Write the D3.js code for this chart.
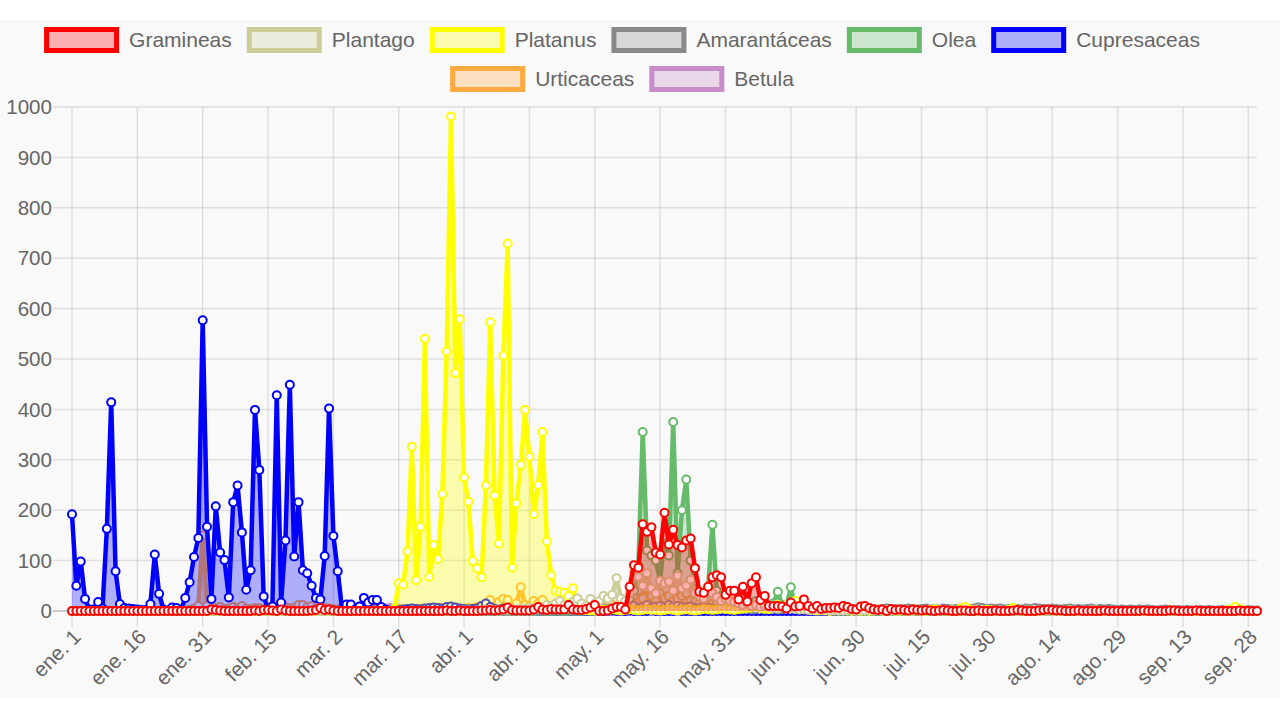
<!DOCTYPE html>
<html>
<head>
<meta charset="utf-8">
<style>
  body { margin: 0; background: #fff; }
  svg { display: block; font-family: "Liberation Sans", Arial, sans-serif; }
  .lbl { fill: #666; font-size: 20.6px; }
</style>
</head>
<body>
<svg id="chart" width="1280" height="720"></svg>
<script src="https://cdn.jsdelivr.net/npm/d3@7"></script>
<script>
// month names and lengths used for the daily category labels (ene. 1 .. sep. 30)
const months = ["ene.", "feb.", "mar.", "abr.", "may.", "jun.", "jul.", "ago.", "sep."];
const monthDays = [31, 28, 31, 30, 31, 30, 31, 31, 30];
const yTicks = [0, 100, 200, 300, 400, 500, 600, 700, 800, 900, 1000];

const seriesNames = ["Gramineas", "Plantago", "Platanus", "Amarantáceas", "Olea", "Cupresaceas", "Urticaceas", "Betula"];
const seriesColors = ["rgb(255,0,0)", "rgb(204,204,153)", "rgb(255,255,0)", "rgb(136,136,136)",
                      "rgb(102,187,106)", "rgb(0,0,255)", "rgb(255,170,64)", "rgb(200,140,200)"];

// one row per month
const gramineas = [
  0,0,0,0,0,0,0,0,0,0, 0,0,0,0,0,0,0,0,0,0, 0,0,0,0,0,0,0,0,0,0, 0,
  0,3,2,1,0,0,0,0,0,0, 0,1,0,2,2,1,0,3,1,0, 0,0,0,0,1,2,6,2,
  3,1,0,0,0,0,0,0,0,0, 0,0,0,0,0,0,0,0,0,0, 0,0,0,0,0,0,0,1,0,0, 1,
  0,0,0,0,1,1,2,1,2,3, 7,2,1,1,1,1,3,8,3,2, 4,3,3,3,12,3,2,2,4,7,
  12,0,0,1,5,8,8,3,48,91, 86,172,157,166,116,112,195,132,161,131, 126,140,144,85,38,36,48,67,71,67, 32,
  40,40,23,48,19,55,67,22,30,10, 10,10,9,5,17,9,10,23,10,5, 10,4,6,6,7,6,10,8,4,3,
  9,10,6,3,2,3,0,4,2,3, 2,1,3,2,1,2,1,0,1,2, 1,0,0,1,1,0,0,1,0,0, 0,
  1,0,0,0,1,2,1,0,0,0, 1,2,3,2,1,1,0,0,0,1, 0,0,0,0,0,1,0,0,0,0, 0,
  0,0,0,1,0,0,0,0,0,1, 1,0,0,0,0,1,0,0,0,0, 0,0,0,0,0,1,0,0,0,0
];
const plantago = [
  0,0,0,0,0,0,0,0,0,0, 0,0,0,0,0,0,0,0,0,0, 0,0,0,0,0,0,0,0,0,0, 0,
  0,0,0,0,0,0,0,0,0,0, 0,0,0,0,0,0,0,0,0,0, 0,0,0,0,0,0,0,0,
  0,0,0,0,0,0,0,0,0,0, 0,0,0,0,0,0,0,0,0,0, 0,0,0,0,0,0,0,0,0,0, 0,
  1,1,0,1,2,2,3,2,3,2, 3,4,3,5,4,6,5,7,8,12, 10,15,20,12,8,18,25,15,10,24,
  15,20,30,25,32,65,25,20,35,78, 68,50,75,45,35,60,55,58,40,70, 45,50,62,35,30,25,40,35,28,20, 25,
  20,18,15,12,15,10,12,8,10,8, 6,5,8,6,5,4,3,3,2,2, 3,2,2,1,2,1,1,2,1,1,
  1,1,2,1,1,0,1,1,0,1, 1,0,0,1,0,1,0,0,0,1, 0,0,1,0,0,0,1,0,0,0, 0,
  0,0,0,0,0,0,0,0,0,0, 0,0,0,0,0,0,0,0,0,0, 0,0,0,0,0,0,0,0,0,0, 0,
  0,0,0,0,0,0,0,0,0,0, 0,0,0,0,0,0,0,0,0,0, 0,0,0,0,0,0,0,0,0,0
];
const platanus = [
  0,0,0,0,0,0,0,0,0,0, 0,0,0,0,0,0,0,0,0,0, 0,0,0,0,0,0,0,0,0,0, 0,
  0,0,0,0,0,0,0,0,0,0, 0,0,0,0,0,0,0,0,0,0, 0,0,0,0,0,0,0,0,
  0,0,0,0,0,0,0,0,0,0, 0,0,0,0,1,4,55,52,118,326, 61,167,540,68,131,103,232,515,981,472, 579,
  265,217,99,85,67,249,573,229,134,507, 729,86,214,290,399,306,192,250,355,138, 71,40,38,36,30,45,12,3,2,1,
  1,2,2,1,3,2,1,2,3,2, 1,2,3,2,2,1,2,3,2,1, 2,3,2,1,2,4,3,2,3,5, 4,
  3,2,4,5,6,8,10,6,5,4, 8,12,8,10,15,20,10,5,3,2, 1,2,1,0,1,2,1,1,0,1,
  0,1,0,1,2,1,0,1,0,0, 1,0,0,1,0,0,2,3,2,1, 0,1,0,5,8,3,1,0,0,2, 1,
  1,0,0,2,6,2,0,0,1,0, 0,0,1,0,0,0,0,1,0,0, 0,0,0,1,0,0,0,0,0,0, 0,
  0,0,0,0,0,0,0,0,0,1, 0,0,0,0,0,0,0,0,0,0, 0,0,1,3,8,4,1,0,0,0
];
const amarantaceas = [
  0,0,0,0,0,0,0,0,0,0, 0,0,0,0,0,0,0,0,0,0, 0,0,0,0,0,0,0,0,0,0, 0,
  0,0,0,0,0,0,0,0,0,0, 0,0,0,0,0,0,0,0,0,0, 0,0,0,0,0,0,0,0,
  0,0,0,0,0,0,0,0,0,0, 0,0,0,0,0,0,0,0,0,0, 0,0,0,0,0,0,0,0,0,0, 0,
  0,0,0,0,0,1,0,0,1,0, 1,0,1,1,0,1,2,1,0,1, 2,1,2,3,2,1,2,3,2,3,
  3,4,5,3,4,6,5,4,8,10, 6,8,12,7,9,10,8,12,9,10, 8,7,9,6,5,7,6,5,4,6, 5,
  4,5,3,4,5,3,4,6,3,4, 5,3,4,5,6,4,3,5,4,3, 4,5,3,4,3,4,5,3,4,3,
  4,3,5,4,3,4,5,3,4,3, 4,5,4,3,4,5,3,4,3,5, 4,3,4,5,6,4,5,7,6,4, 5,
  4,5,3,4,5,4,3,5,4,6, 5,4,3,5,4,3,4,5,3,4, 3,4,5,3,4,3,4,3,2,3, 2,
  3,2,3,2,3,2,1,2,3,2, 1,2,1,2,1,1,2,1,2,1, 1,2,1,1,2,1,1,2,1,1
];
const olea = [
  0,0,0,0,0,0,0,0,0,0, 0,0,0,0,0,0,0,0,0,0, 0,0,0,0,0,0,0,0,0,0, 0,
  0,0,0,0,0,0,0,0,0,0, 0,0,0,0,0,0,0,0,0,0, 0,0,0,0,0,0,0,0,
  0,0,0,0,0,0,0,0,0,0, 0,0,0,0,0,0,0,0,0,0, 0,0,0,0,0,0,0,0,0,0, 0,
  0,0,0,0,0,0,0,0,0,0, 0,0,0,0,0,0,0,0,0,0, 0,0,0,0,0,0,0,0,1,1,
  0,1,2,3,5,8,10,15,25,40, 90,355,120,110,100,60,150,110,375,75, 200,261,100,60,35,30,45,171,40,30, 25,
  20,15,18,12,10,15,20,12,10,8, 15,38,12,10,47,8,5,4,3,2, 2,1,2,1,1,0,1,0,1,0,
  0,0,0,0,0,0,0,0,0,0, 0,0,0,0,0,0,0,0,0,0, 0,0,0,0,0,0,0,0,0,0, 0,
  0,0,0,0,0,0,0,0,0,0, 0,0,0,0,0,0,0,0,0,0, 0,0,0,0,0,0,0,0,0,0, 0,
  0,0,0,0,0,0,0,0,0,0, 0,0,0,0,0,0,0,0,0,0, 0,0,0,0,0,0,0,0,0,0
];
const cupresaceas = [
  192,50,98,24,3,3,18,5,163,414, 79,14,6,5,4,3,2,2,14,112, 34,3,1,7,6,2,26,57,107,145, 577,
  167,24,208,116,101,27,216,249,156,42, 81,399,280,29,4,9,428,17,140,449, 108,216,81,75,50,26,23,109,
  402,149,79,2,13,13,3,9,26,17, 22,22,8,3,2,1,2,3,4,5, 4,3,5,6,7,6,5,8,9,7, 5,
  4,3,4,5,10,15,8,4,3,5, 4,3,2,2,1,1,1,0,0,1, 0,0,0,1,0,0,0,0,0,0,
  0,1,0,0,1,0,0,0,1,0, 0,0,0,1,0,0,0,0,0,1, 0,0,0,0,0,0,0,0,0,0, 0,
  0,0,0,0,0,0,0,0,0,0, 0,0,0,0,0,0,0,0,0,0, 0,0,0,0,0,0,0,0,0,0,
  0,0,0,0,0,0,0,0,0,0, 0,0,0,0,0,0,0,0,0,0, 0,0,0,0,0,0,0,0,0,0, 0,
  0,0,0,0,0,0,0,0,0,0, 0,0,0,0,0,1,0,0,0,0, 0,0,0,0,0,0,0,0,0,0, 0,
  0,0,0,0,0,0,0,0,0,0, 0,0,0,0,0,0,0,0,0,0, 0,0,0,0,0,0,0,0,0,0
];
const urticaceas = [
  0,0,0,0,0,0,0,0,0,0, 0,0,0,0,0,0,0,0,0,0, 0,0,0,0,0,0,0,2,5,10, 150,
  10,5,6,8,4,5,8,6,10,5, 4,6,5,3,8,10,6,12,8,5, 6,12,12,8,10,5,4,6,
  5,4,3,2,3,2,3,2,1,2, 3,2,1,2,2,3,4,3,2,3, 4,5,3,4,5,4,6,5,4,6, 5,
  4,6,5,8,10,12,22,8,18,24, 22,10,15,47,12,10,20,15,22,10, 8,12,10,8,12,10,8,12,10,8,
  8,6,10,8,12,10,8,12,15,30, 40,25,45,30,20,35,25,30,20,25, 30,35,20,18,15,20,12,15,18,10, 12,
  10,8,12,8,6,10,8,6,5,4, 6,5,4,3,4,3,2,3,2,1, 2,1,1,2,1,0,1,1,0,1,
  1,0,1,0,0,1,0,0,1,0, 0,0,1,0,0,0,0,1,0,0, 0,0,0,0,1,0,0,0,0,0, 0,
  0,0,0,0,0,0,0,0,0,0, 0,0,0,0,0,0,0,0,0,0, 0,0,0,0,0,0,0,0,0,0, 0,
  0,0,0,0,0,0,0,0,0,0, 0,0,0,0,0,0,0,0,0,0, 0,0,0,0,0,0,0,0,0,0
];
const betula = [
  0,0,0,0,0,0,0,0,0,0, 0,0,0,0,0,0,0,0,0,0, 0,0,0,0,0,0,0,0,0,0, 0,
  0,0,0,1,0,0,1,0,0,1, 0,0,1,0,1,0,0,1,0,1, 1,0,1,2,1,1,2,1,
  1,2,3,2,4,3,5,4,3,6, 5,4,3,5,6,4,5,3,4,2, 3,4,2,3,2,1,2,1,2,1, 1,
  1,0,1,1,0,1,0,1,0,0, 1,0,0,1,0,0,0,1,0,0, 0,0,0,0,0,0,0,0,0,0,
  0,0,0,0,0,0,0,0,0,0, 0,0,0,0,0,0,0,0,0,0, 0,0,0,0,0,0,0,0,0,0, 0,
  0,0,0,0,0,0,0,0,0,0, 0,0,0,0,0,0,0,0,0,0, 0,0,0,0,0,0,0,0,0,0,
  0,0,0,0,0,0,0,0,0,0, 0,0,0,0,0,0,0,0,0,0, 0,0,0,0,0,0,0,0,0,0, 0,
  0,0,0,0,0,0,0,0,0,0, 0,0,0,0,0,0,0,0,0,0, 0,0,0,0,0,0,0,0,0,0, 0,
  0,0,0,0,0,0,0,0,0,0, 0,0,0,0,0,0,0,0,0,0, 0,0,0,0,0,0,0,0,0,0
];

const seriesValues = [gramineas, plantago, platanus, amarantaceas, olea, cupresaceas, urticaceas, betula];

// daily labels
let labels = []
months.forEach((m, mi) => {
    for (let d = 1; d <= monthDays[mi]; d++) labels.push(m + " " + d)
})
seriesValues.forEach((s, i) => {
    if (s.length !== labels.length) throw new Error(seriesNames[i] + " has " + s.length + " values, expected " + labels.length)
})

let svg = d3.select("#chart")
let plotLeft = 72, plotRight = 1257, plotTop = 107, plotBottom = 611

svg.append("rect").attr("x", 0).attr("y", 20).attr("width", 1280).attr("height", 678).attr("fill", "#f9f9f9")

let x = d3.scalePoint().domain(labels).range([plotLeft, plotRight])
let y = d3.scaleLinear().domain([0, 1000]).range([plotBottom, plotTop])

// grid
let grid = svg.append("g")
grid.selectAll(".hgrid").data(yTicks).enter().append("line")
    .attr("x1", 53).attr("x2", plotRight)
    .attr("y1", d => y(d)).attr("y2", d => y(d))
    .attr("stroke", d => d === 0 ? "rgba(0,0,0,0.25)" : "rgba(0,0,0,0.1)")
    .attr("stroke-width", 1.5)

let shown = labels.filter((d, i) => i % 15 === 0)
grid.selectAll(".vgrid").data(shown).enter().append("line")
    .attr("x1", d => x(d)).attr("x2", d => x(d))
    .attr("y1", plotTop).attr("y2", plotBottom + 16)
    .attr("stroke", "rgba(0,0,0,0.1)")
    .attr("stroke-width", 1.5)

svg.selectAll(".ylab").data(yTicks).enter().append("text")
    .attr("class", "lbl")
    .attr("x", 52).attr("y", d => y(d))
    .attr("dy", "0.35em")
    .attr("text-anchor", "end")
    .text(d => d)

svg.selectAll(".xlab").data(shown).enter().append("text")
    .attr("class", "lbl")
    .attr("text-anchor", "end")
    .attr("dy", "0.35em")
    .attr("transform", d => "translate(" + (x(d) + 5) + "," + (plotBottom + 22) + ") rotate(-45)")
    .text(d => d)

// series, last dataset drawn first so Gramineas ends up on top
let area = d3.area().x((d, i) => x(labels[i])).y0(y(0)).y1(d => y(d))
let line = d3.line().x((d, i) => x(labels[i])).y(d => y(d))

let order = d3.range(seriesNames.length).reverse()
order.forEach(k => {
    let col = d3.color(seriesColors[k])
    let g = svg.append("g")
    let fill = d3.color(seriesColors[k]); fill.opacity = 0.3
    g.append("path").attr("d", area(seriesValues[k])).attr("fill", fill.toString())
    g.append("path").attr("d", line(seriesValues[k]))
        .attr("fill", "none").attr("stroke", col.toString())
        .attr("stroke-width", 4.5).attr("stroke-linejoin", "miter").attr("stroke-miterlimit", 2)
    g.selectAll("circle").data(seriesValues[k]).enter().append("circle")
        .attr("cx", (d, i) => x(labels[i])).attr("cy", d => y(d))
        .attr("r", 4)
        .attr("fill", "#fff").attr("stroke", col.toString()).attr("stroke-width", 2)
})

// legend
let legendRows = [[0, 1, 2, 3, 4, 5], [6, 7]]
let rowY = [40, 79]
let leg = svg.append("g")
legendRows.forEach((row, r) => {
    let items = row.map(k => {
        let t = leg.append("text").attr("class", "lbl").style("font-size", "21px")
            .attr("dy", "0.35em").attr("y", rowY[r]).text(seriesNames[k])
        return { k: k, t: t, w: t.node().getComputedTextLength() }
    })
    let total = d3.sum(items, d => 75 + 10 + d.w) + 15 * (items.length - 1)
    let cx = 622 - total / 2
    items.forEach(it => {
        let fill = d3.color(seriesColors[it.k]); fill.opacity = 0.3
        leg.append("rect")
            .attr("x", cx + 2.5).attr("y", rowY[r] - 10.5)
            .attr("width", 70).attr("height", 21)
            .attr("fill", fill.toString())
            .attr("stroke", seriesColors[it.k]).attr("stroke-width", 5)
        it.t.attr("x", cx + 85)
        cx += 75 + 10 + it.w + 15
    })
})
</script>
</body>
</html>
